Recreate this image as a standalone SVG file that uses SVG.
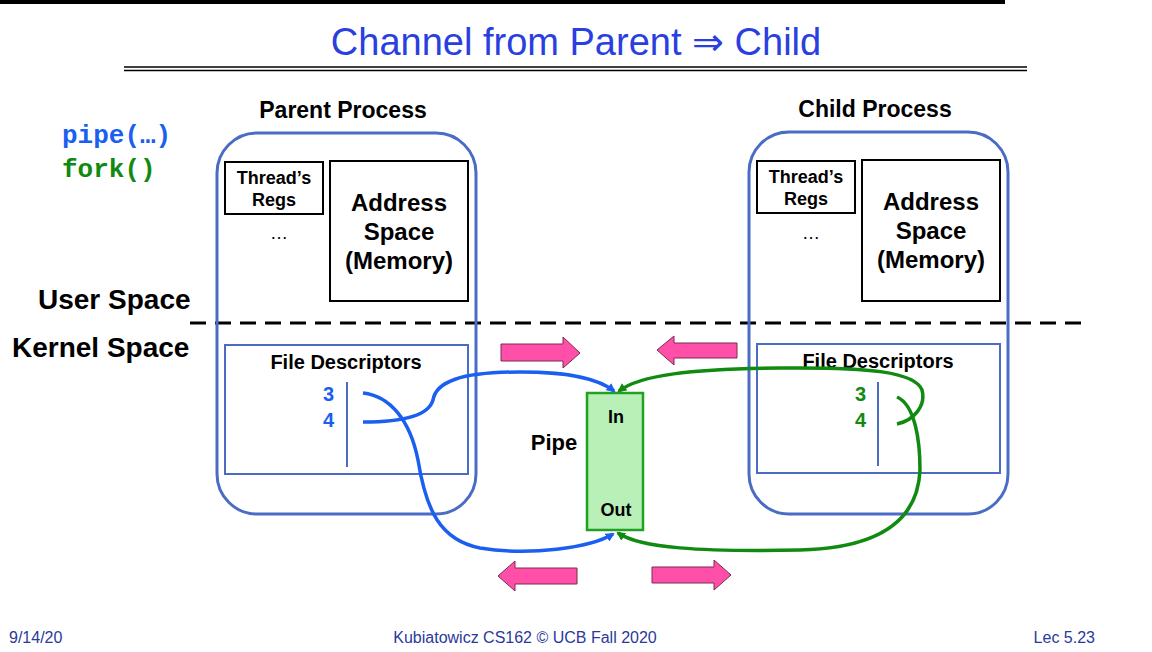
<svg xmlns="http://www.w3.org/2000/svg" width="1152" height="652" viewBox="0 0 1152 652">
<style>
text{font-family:"Liberation Sans",Arial,sans-serif;}
.b{font-weight:bold;}
.proc{fill:none;stroke:#4a6cc4;stroke-width:3;}
.box{fill:#fff;stroke:#000;stroke-width:2;}
.fd{fill:none;stroke:#4a6cc4;stroke-width:2;}
.pink{fill:#ff4fa8;stroke:#7a2a50;stroke-width:1;}
.blue{fill:none;stroke:#1a5ff0;stroke-width:3.5;}
.green{fill:none;stroke:#108a10;stroke-width:3.5;}
.mono{font-family:"Liberation Mono","Courier New",monospace;font-weight:bold;font-size:26px;}
</style>
<defs>
<marker id="ab" markerWidth="9" markerHeight="9" refX="7" refY="4.5" orient="auto" markerUnits="userSpaceOnUse" viewBox="0 0 9 9"><path d="M0,0 L9,4.5 L0,9 z" fill="#1a5ff0"/></marker>
<marker id="ag" markerWidth="9" markerHeight="9" refX="7" refY="4.5" orient="auto" markerUnits="userSpaceOnUse" viewBox="0 0 9 9"><path d="M0,0 L9,4.5 L0,9 z" fill="#108a10"/></marker>
</defs>
<rect width="1152" height="652" fill="#fff"/>
<rect x="0" y="0" width="1005" height="4" fill="#000"/>
<text x="576" y="55" font-size="38" fill="#2a3fe0" text-anchor="middle">Channel from Parent ⇒ Child</text>
<line x1="124" y1="67" x2="1027" y2="67" stroke="#000" stroke-width="1.5"/>
<line x1="124" y1="70.5" x2="1027" y2="70.5" stroke="#000" stroke-width="1.5"/>
<text x="62" y="143" class="mono" fill="#1a5ff0">pipe(…)</text>
<text x="62" y="177" class="mono" fill="#108a10">fork()</text>
<text x="38" y="309" font-size="28" class="b">User Space</text>
<text x="12" y="357" font-size="28" class="b">Kernel Space</text>
<line x1="190" y1="323" x2="1090" y2="323" stroke="#000" stroke-width="3" stroke-dasharray="16,9"/>
<g id="parent">
<text x="343" y="118" font-size="23" class="b" text-anchor="middle">Parent Process</text>
<rect class="proc" x="217" y="133" width="259" height="381" rx="40"/>
<rect class="box" x="225" y="162" width="98" height="52"/>
<text x="274" y="184" font-size="18" class="b" text-anchor="middle">Thread’s</text>
<text x="274" y="206" font-size="18" class="b" text-anchor="middle">Regs</text>
<text x="279" y="239" font-size="18" text-anchor="middle">…</text>
<rect class="box" x="330" y="161" width="138" height="140"/>
<text x="399" y="211" font-size="24" class="b" text-anchor="middle">Address</text>
<text x="399" y="240" font-size="24" class="b" text-anchor="middle">Space</text>
<text x="399" y="269" font-size="24" class="b" text-anchor="middle">(Memory)</text>
<rect class="fd" x="225" y="345" width="243" height="129"/>
<text x="346" y="369" font-size="20" class="b" text-anchor="middle">File Descriptors</text>
<line class="fd" x1="347" y1="382" x2="347" y2="467"/>
<text x="334" y="401" font-size="20" class="b" fill="#1a5ff0" text-anchor="end">3</text>
<text x="334" y="427" font-size="20" class="b" fill="#1a5ff0" text-anchor="end">4</text>
</g>
<g id="child">
<text x="875" y="117" font-size="23" class="b" text-anchor="middle">Child Process</text>
<rect class="proc" x="749" y="132" width="259" height="382" rx="40"/>
<rect class="box" x="757" y="161" width="98" height="52"/>
<text x="806" y="183" font-size="18" class="b" text-anchor="middle">Thread’s</text>
<text x="806" y="205" font-size="18" class="b" text-anchor="middle">Regs</text>
<text x="811" y="239" font-size="18" text-anchor="middle">…</text>
<rect class="box" x="862" y="160" width="138" height="141"/>
<text x="931" y="210" font-size="24" class="b" text-anchor="middle">Address</text>
<text x="931" y="239" font-size="24" class="b" text-anchor="middle">Space</text>
<text x="931" y="268" font-size="24" class="b" text-anchor="middle">(Memory)</text>
<rect class="fd" x="757" y="344" width="243" height="129"/>
<text x="878" y="368" font-size="20" class="b" text-anchor="middle">File Descriptors</text>
<line class="fd" x1="878" y1="382" x2="878" y2="466"/>
<text x="866" y="401" font-size="20" class="b" fill="#108a10" text-anchor="end">3</text>
<text x="866" y="427" font-size="20" class="b" fill="#108a10" text-anchor="end">4</text>
</g>
<g id="pipe">
<rect x="587" y="393" width="56" height="137" fill="#b8f0b8" stroke="#22a022" stroke-width="2.5"/>
<text x="616" y="423" font-size="18" class="b" text-anchor="middle">In</text>
<text x="616" y="516" font-size="18" class="b" text-anchor="middle">Out</text>
<text x="554" y="450" font-size="22" class="b" text-anchor="middle">Pipe</text>
</g>
<g id="connectors">
<path class="blue" marker-end="url(#ab)" d="M363,393 C390,396 410,420 418,460 C426,510 440,540 480,548 C530,556 590,548 613,534"/>
<path class="blue" marker-end="url(#ab)" d="M363,422 C395,422 428,418 433,400 C436,382 460,372 520,372 C575,372 600,380 614,391"/>
<path class="green" marker-end="url(#ag)" d="M897,397 C915,405 920,440 920,470 C918,520 880,548 800,550 C700,552 640,548 618,533"/>
<path class="green" marker-end="url(#ag)" d="M897,424 C915,420 926,405 922,390 C915,372 870,367 780,368 C690,369 640,375 619,391"/>
</g>
<g id="arrows">
<path class="pink" d="M501,344 H563 V337 L580,353 L563,368 V361 H501 Z"/>
<path class="pink" d="M737,343 H674 V336 L657,350 L674,365 V358 H737 Z"/>
<path class="pink" d="M577,568 H515 V561 L498,576 L515,591 V584 H577 Z"/>
<path class="pink" d="M652,567 H714 V560 L731,575 L714,590 V583 H652 Z"/>
</g>
<text x="9" y="643" font-size="16" fill="#2a3a9a">9/14/20</text>
<text x="525" y="643" font-size="16" fill="#2a3a9a" text-anchor="middle">Kubiatowicz CS162 © UCB Fall 2020</text>
<text x="1095" y="643" font-size="16" fill="#2a3a9a" text-anchor="end">Lec 5.23</text>
</svg>
